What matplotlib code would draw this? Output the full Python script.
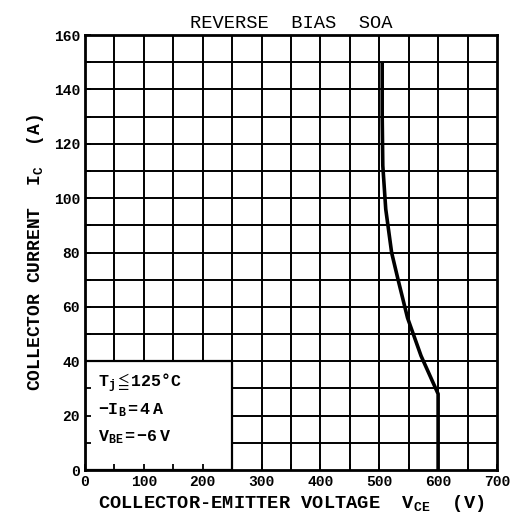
import numpy as np
import matplotlib
matplotlib.use("Agg")
import matplotlib.pyplot as plt
from matplotlib.patches import Rectangle

# ---- data ----
vce = [505, 505, 506, 511, 521, 532, 548, 571, 600, 600]
ic = [150, 130, 112, 96, 80, 70, 56, 42, 28, 0]

x_ticks = [0, 100, 200, 300, 400, 500, 600, 700]
y_ticks = [0, 20, 40, 60, 80, 100, 120, 140, 160]
x_grid = np.arange(50, 700, 50)
y_grid = np.arange(10, 160, 10)

# box with the test conditions (lower left corner of the grid)
box_v = 250
box_a = 40
cond_lines = [
    r"$\mathrm{T}_{\mathrm{j}}\leqq 125\mathrm{°C}$",
    r"$-\mathrm{I}_{\mathrm{B}}=4\ \mathrm{A}$",
    r"$\mathrm{V}_{\mathrm{BE}}=-6\ \mathrm{V}$",
]
cond_y = [32, 22, 12]

plt.rcParams["font.family"] = ["Liberation Mono", "DejaVu Sans"]
plt.rcParams["mathtext.fontset"] = "custom"
plt.rcParams["mathtext.rm"] = "Liberation Mono:bold"
plt.rcParams["mathtext.it"] = "Liberation Mono:bold"
plt.rcParams["mathtext.bf"] = "Liberation Mono:bold"
plt.rcParams["mathtext.fallback"] = "stix"

fig = plt.figure(figsize=(5.15, 5.24), dpi=100)
ax = fig.add_axes([0.165, 0.103, 0.800, 0.830])

ax.set_xlim(0, 700)
ax.set_ylim(0, 160)

# grid drawn by hand so it stops at the condition box
for v in x_grid:
    ax.vlines(v, box_a if v <= box_v else 0, 160, color="black", lw=1.4)
for a in y_grid:
    ax.hlines(a, box_v if a <= box_a else 0, 700, color="black", lw=1.4)
ax.add_patch(Rectangle((0, 0), box_v, box_a, fill=False, ec="black", lw=1.6))

# SOA boundary
ax.plot(vce, ic, color="black", lw=2.6, solid_capstyle="butt")

for t, y in zip(cond_lines, cond_y):
    ax.text(22, y, t, fontsize=12, va="center", ha="left")

ax.set_xticks(x_ticks)
ax.set_yticks(y_ticks)
ax.set_xticks(x_grid, minor=True)
ax.set_yticks(y_grid, minor=True)
ax.tick_params(which="both", direction="in", length=4, width=1.3)
ax.tick_params(labelsize=10.5)
for lab in ax.get_xticklabels() + ax.get_yticklabels():
    lab.set_fontweight("bold")
for s in ax.spines.values():
    s.set_linewidth(2)

ax.set_title("REVERSE  BIAS  SOA", fontsize=13.5, pad=5)
ax.set_xlabel(r"COLLECTOR-EMITTER VOLTAGE  $\mathrm{V}_{\mathrm{CE}}$  (V)",
              fontsize=13.5, fontweight="bold", labelpad=3)
ax.set_ylabel(r"COLLECTOR CURRENT  $\mathrm{I}_{\mathrm{C}}$  (A)",
              fontsize=13, fontweight="bold", labelpad=6)

fig.savefig("out.png", dpi=100)
